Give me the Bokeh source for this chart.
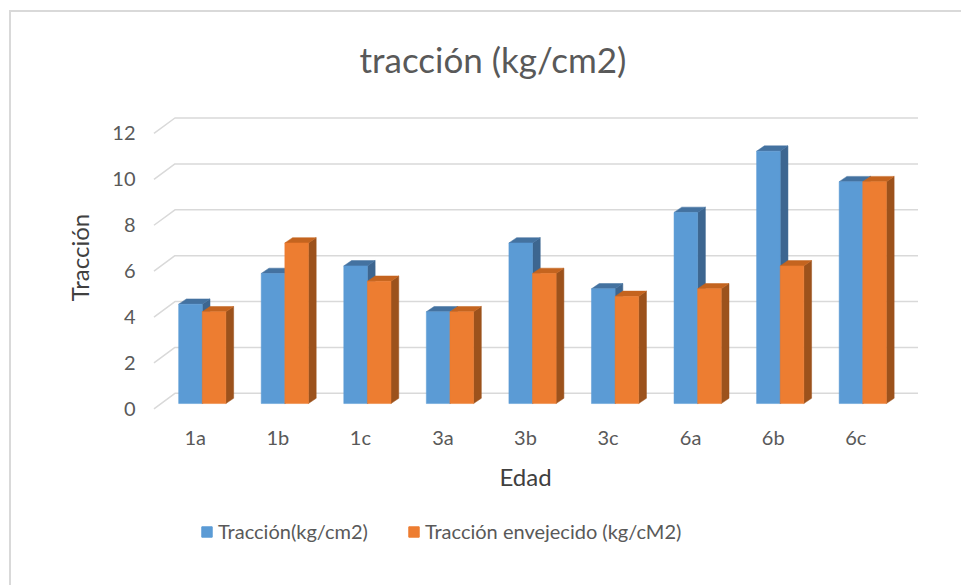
from bokeh.plotting import figure
from bokeh.layouts import column
from bokeh.models import (Range1d, LinearAxis, FixedTicker, CustomJSTickFormatter,
                          Legend, LegendItem, ColumnDataSource)
from bokeh.embed import file_html
from bokeh.resources import INLINE

# ---- data ----
categories = ["1a", "1b", "1c", "3a", "3b", "3c", "6a", "6b", "6c"]
traccion = [4.33, 5.67, 6.0, 4.0, 7.0, 5.0, 8.33, 11.0, 9.67]
envejecido = [4.0, 7.0, 5.33, 4.0, 5.67, 4.67, 5.0, 6.0, 9.67]
y_ticks = [0, 2, 4, 6, 8, 10, 12]
series_names = ["Tracción(kg/cm2)", "Tracción envejecido (kg/cM2)"]

# ---- pseudo-3D geometry (data units of the front floor plane) ----
PAD = 0.26          # horizontal padding of the x range
DXW, DYW = 0.254, 0.675   # depth of the back wall
BX0, BY0 = 0.085, 0.23    # front face of the columns inside the depth
DXB, DYB = 0.094, 0.23    # depth of a column
BW = 0.286                # width of one column

BLUE = ("#5B9BD5", "#4472A0", "#3D6690")     # front, top, side
ORANGE = ("#ED7D31", "#C4641F", "#9C521C")

n = len(categories)
p = figure(width=950, height=505, output_backend="svg", toolbar_location=None,
           x_range=Range1d(-PAD, n + PAD),
           y_range=Range1d(-0.16, 13.35),
           x_axis_location=None,
           min_border_left=121, min_border_right=43,
           min_border_top=88, min_border_bottom=105)
p.outline_line_color = None
p.xgrid.visible = False
p.ygrid.visible = False
p.background_fill_color = "white"
p.border_fill_color = "white"

# title
p.title.text = "tracción (kg/cm2)"
p.title.align = "left"
p.title.offset = 227
p.title.standoff = 46
p.title.text_font = "Lato"
p.title.text_font_size = "35px"
p.title.text_font_style = "normal"
p.title.text_color = "#595959"

# value axis
yax = p.yaxis[0]
yax.ticker = FixedTicker(ticks=y_ticks)
yax.axis_line_color = None
yax.major_tick_line_color = None
yax.minor_tick_line_color = None
yax.major_tick_out = 0
yax.major_label_standoff = -3
yax.major_label_text_font = "Lato"
yax.major_label_text_font_size = "20px"
yax.major_label_text_color = "#595959"
yax.axis_label = "Tracción"
yax.axis_label_text_font = "Lato"
yax.axis_label_text_font_size = "24px"
yax.axis_label_text_font_style = "normal"
yax.axis_label_text_color = "#404040"
yax.axis_label_standoff = 15

# category axis on the front edge of the floor: one tick per category centre
xax = LinearAxis(ticker=FixedTicker(ticks=[i + 0.5 for i in range(n)], minor_ticks=[]),
                 formatter=CustomJSTickFormatter(args=dict(cats=categories),
                                                 code="return cats[Math.floor(tick)]"))
xax.axis_line_color = None
xax.major_tick_line_color = None
xax.minor_tick_line_color = None
xax.major_tick_out = 0
xax.major_label_standoff = 12
xax.major_label_text_font = "Lato"
xax.major_label_text_font_size = "20px"
xax.major_label_text_color = "#595959"
xax.axis_label = "Edad"
xax.axis_label_text_font = "Lato"
xax.axis_label_text_font_size = "24px"
xax.axis_label_text_font_style = "normal"
xax.axis_label_text_color = "#404040"
xax.axis_label_standoff = 10
p.add_layout(xax, "below")

# gridlines: short diagonal on the side wall, then across the back wall
grid_xs = [[0, DXW, n + DXW] for _ in y_ticks]
grid_ys = [[v, v + DYW, v + DYW] for v in y_ticks]
p.multi_line(grid_xs, grid_ys, line_color="#D9D9D9", line_width=1.5)


def column_faces(values, shift):
    left, right, bottom, top = [], [], [], []
    top_xs, top_ys, side_xs, side_ys = [], [], [], []
    for i, v in enumerate(values):
        xl = i + 0.5 + BX0 + shift
        xr = xl + BW
        yb = BY0
        yt = BY0 + v
        left.append(xl)
        right.append(xr)
        bottom.append(yb)
        top.append(yt)
        top_xs.append([xl, xr, xr + DXB, xl + DXB])
        top_ys.append([yt, yt, yt + DYB, yt + DYB])
        side_xs.append([xr, xr + DXB, xr + DXB, xr])
        side_ys.append([yb, yb + DYB, yt + DYB, yt])
    return left, right, bottom, top, top_xs, top_ys, side_xs, side_ys


front_sources = []
for values, shift, cols in [(traccion, -BW, BLUE), (envejecido, 0.0, ORANGE)]:
    l, r, b, t, txs, tys, sxs, sys_ = column_faces(values, shift)
    p.patches(sxs, sys_, fill_color=cols[2], line_color=cols[2], line_width=0.5)
    p.patches(txs, tys, fill_color=cols[1], line_color=cols[1], line_width=0.5)
    src = ColumnDataSource(dict(left=l, right=r, bottom=b, top=t))
    p.quad(left="left", right="right", bottom="bottom", top="top", source=src,
           fill_color=cols[0], line_color=cols[0], line_width=0.5)
    front_sources.append(src)

# legend strip under the chart (swatches share the column data, hidden glyphs)
q = figure(width=950, height=68, output_backend="svg", toolbar_location=None,
           x_range=Range1d(0, 1), y_range=Range1d(0, 1),
           x_axis_location=None, y_axis_location=None, min_border=0)
q.outline_line_color = None
q.xgrid.visible = False
q.ygrid.visible = False
q.border_fill_color = "white"
items = []
for name, cols, src in zip(series_names, [BLUE, ORANGE], front_sources):
    swatch = q.quad(left="left", right="right", bottom="bottom", top="top",
                    source=src, fill_color=cols[0], line_color=cols[0],
                    visible=False)
    items.append(LegendItem(label=name, renderers=[swatch]))
legend = Legend(items=items, orientation="horizontal",
                location=(68, 42), padding=0, margin=0, spacing=39,
                glyph_width=13, glyph_height=13, label_standoff=5,
                label_text_font="Lato", label_text_font_size="20px",
                label_text_color="#595959", border_line_color=None,
                background_fill_alpha=0)
q.add_layout(legend, "center")

layout = column(p, q, spacing=0)
# light chart border on the top and left edges
layout.styles = {"margin-left": "9px", "margin-top": "10px",
                 "border-left": "2px solid #D9D9D9", "border-top": "2px solid #D9D9D9"}

open("out.html", "w").write(file_html(layout, INLINE))
